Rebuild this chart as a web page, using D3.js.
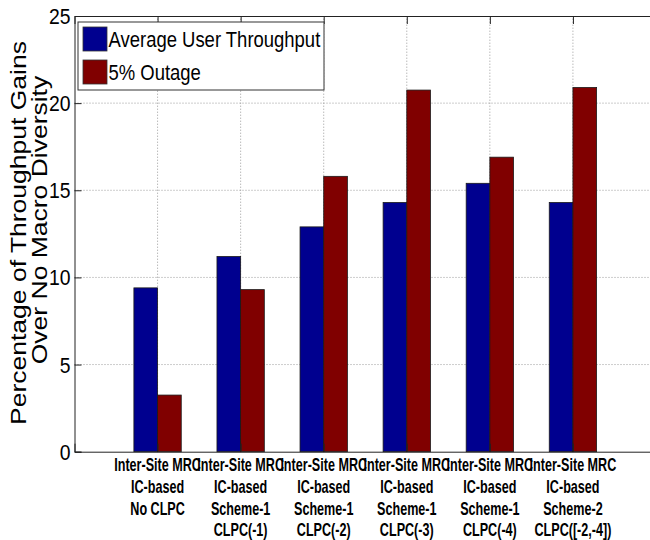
<!DOCTYPE html>
<html>
<head>
<meta charset="utf-8">
<script src="https://cdn.jsdelivr.net/npm/d3@7"></script>
<style>
  html, body { margin: 0; padding: 0; background: #fff; }
  svg { display: block; }
  text { font-family: "Liberation Sans", Arial, Helvetica, sans-serif; fill: #000; }
</style>
</head>
<body>
<svg id="chart" width="650" height="540"></svg>
<script>
// Scheme labels (one line per entry)
const categories = [
  ["Inter-Site MRC", "IC-based", "No CLPC"],
  ["Inter-Site MRC", "IC-based", "Scheme-1", "CLPC(-1)"],
  ["Inter-Site MRC", "IC-based", "Scheme-1", "CLPC(-2)"],
  ["Inter-Site MRC", "IC-based", "Scheme-1", "CLPC(-3)"],
  ["Inter-Site MRC", "IC-based", "Scheme-1", "CLPC(-4)"],
  ["Inter-Site MRC", "IC-based", "Scheme-2", "CLPC([-2,-4])"]
];
const seriesNames = ["Average User Throughput", "5% Outage"];
const avgThroughput = [9.4, 11.2, 12.9, 14.3, 15.4, 14.3];
const outage5 = [3.25, 9.3, 15.8, 20.75, 16.9, 20.9];
const yTicks = [0, 5, 10, 15, 20, 25];
const yLabelLines = ["Percentage of Throughput Gains", "Over No Macro Diversity"];

const colors = ["#00008f", "#800000"];
const series = [avgThroughput, outage5];

const svg = d3.select("#chart");

const x = d3.scaleLinear().domain([0, 7]).range([74.5, 656]);
const y = d3.scaleLinear().domain([0, 25]).range([451.7, 16]);
const halfW = 0.285; // bar width in data units

// Horizontally condensed text helper
function label(parent, str, px, py, opts) {
  const g = parent.append("g")
    .attr("transform", `translate(${px},${py}) scale(${opts.sx || 1},1)`);
  g.append("text")
    .attr("text-anchor", opts.anchor || "start")
    .attr("font-size", opts.size)
    .attr("font-weight", opts.weight || "normal")
    .text(str);
  return g;
}

const plot = svg.append("g");

// Dotted grid
const gridColor = "#9a9a9a";
plot.selectAll("line.hgrid").data(yTicks.filter(d => d > 0 && d < 25)).join("line")
  .attr("class", "hgrid")
  .attr("x1", x(0)).attr("x2", 650)
  .attr("y1", d => y(d)).attr("y2", d => y(d))
  .attr("stroke", gridColor).attr("stroke-width", 1)
  .attr("stroke-dasharray", "1,2");
plot.selectAll("line.vgrid").data(d3.range(1, categories.length + 1)).join("line")
  .attr("class", "vgrid")
  .attr("x1", d => x(d)).attr("x2", d => x(d))
  .attr("y1", y(0)).attr("y2", y(25))
  .attr("stroke", gridColor).attr("stroke-width", 1)
  .attr("stroke-dasharray", "1,2");

// Bars
series.forEach((vals, s) => {
  plot.selectAll(`rect.s${s}`).data(vals).join("rect")
    .attr("class", `s${s}`)
    .attr("x", (d, i) => x(i + 1 + (s === 0 ? -halfW : 0)))
    .attr("width", x(halfW) - x(0))
    .attr("y", d => y(d))
    .attr("height", d => y(0) - y(d))
    .attr("fill", colors[s])
    .attr("stroke", "#1a1a1a")
    .attr("stroke-width", 0.8);
});

// Axes frame: left, bottom, top
const yAxis = d3.axisLeft(y).tickValues(yTicks).tickSize(-7).tickFormat("");
const yAxisG = svg.append("g").attr("transform", `translate(${x(0)},0)`).call(yAxis);
yAxisG.select(".domain").attr("stroke", "#222");
yAxisG.selectAll(".tick line").attr("stroke", "#222");

const xAxis = d3.axisBottom(x).tickValues(d3.range(1, 7)).tickSize(-8).tickFormat("");
const xAxisG = svg.append("g").attr("transform", `translate(0,${y(0)})`).call(xAxis);
xAxisG.select(".domain").attr("stroke", "#222");
xAxisG.selectAll(".tick line").attr("stroke", "#222");

const xTopAxis = d3.axisTop(x).tickValues(d3.range(1, 7)).tickSize(-8).tickFormat("");
const xTopG = svg.append("g").attr("transform", `translate(0,${y(25)})`).call(xTopAxis);
xTopG.select(".domain").attr("stroke", "#222");
xTopG.selectAll(".tick line").attr("stroke", "#222");

// Y tick labels
yTicks.forEach(t => {
  label(svg, String(t), x(0) - 4, y(t) + 8, { size: 22, anchor: "end", sx: 0.88 });
});

// X tick labels (multi-line, bold, condensed)
const lineY = [471, 493, 515, 536];
categories.forEach((lines, i) => {
  lines.forEach((ln, j) => {
    label(svg, ln, x(i + 1), lineY[j], { size: 18, weight: "bold", anchor: "middle", sx: 0.7 });
  });
});

// Y axis title, two rotated lines
const yl = [{ cx: 26, cy: 233 }, { cx: 47, cy: 220 }];
yLabelLines.forEach((ln, j) => {
  svg.append("g")
    .attr("transform", `translate(${yl[j].cx},${yl[j].cy}) rotate(-90) scale(1,0.8)`)
    .append("text")
    .attr("text-anchor", "middle")
    .attr("font-size", 26.5)
    .text(ln);
});

// Legend
const leg = svg.append("g");
leg.append("rect")
  .attr("x", 78).attr("y", 22).attr("width", 246).attr("height", 68)
  .attr("fill", "#fff").attr("stroke", "#333").attr("stroke-width", 1);
seriesNames.forEach((name, s) => {
  const top = 27 + s * 33;
  leg.append("rect")
    .attr("x", 83).attr("y", top).attr("width", 24).attr("height", 24)
    .attr("fill", colors[s]).attr("stroke", "#333").attr("stroke-width", 0.8);
  label(leg, name, 108.5, top + 20, { size: 22, sx: 0.84 });
});
</script>
</body>
</html>
